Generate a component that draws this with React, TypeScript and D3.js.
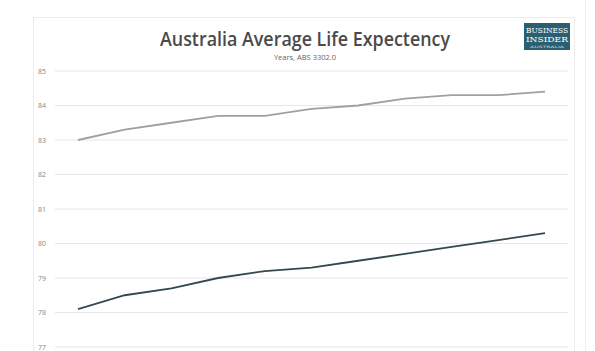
import React from "react";
import * as d3 from "d3";

const years = ["1", "2", "3", "4", "5", "6", "7", "8", "9", "10", "11"];
const female = [83.0, 83.3, 83.5, 83.7, 83.7, 83.9, 84.0, 84.2, 84.3, 84.3, 84.4];
const male = [78.1, 78.5, 78.7, 79.0, 79.2, 79.3, 79.5, 79.7, 79.9, 80.1, 80.3];
const yTicks = [77, 78, 79, 80, 81, 82, 83, 84, 85];

const W = 595;
const H = 351;

export default function App() {
  const x = d3.scalePoint<string>().domain(years).range([78, 545]);
  const y = d3.scaleLinear().domain([77, 85]).range([347, 71]);
  const line = d3
    .line<number>()
    .x((_, i) => x(years[i]) as number)
    .y((d) => y(d));

  return (
    <svg
      width={W}
      height={H}
      style={{ position: "absolute", left: 0, top: 0, background: "#fff" }}
    >
      <rect x={0} y={0} width={W} height={H} fill="#fff" />
      {/* card */}
      <rect x={33.5} y={17.5} width={541} height={340} fill="#fff" stroke="#ececec" />
      {/* right side panel edge */}
      <line x1={585.5} x2={585.5} y1={0} y2={H} stroke="#f0f0f0" />
      {/* gridlines */}
      {yTicks.map((t) => (
        <g key={t}>
          <line x1={55} x2={568} y1={y(t)} y2={y(t)} stroke="#e6e6e6" strokeWidth={1} />
          <text
            x={46}
            y={y(t) + 2.5}
            textAnchor="end"
            fontFamily="'Open Sans', sans-serif"
            fontSize={7}
            fill="#888888"
          >
            {t}
          </text>
        </g>
      ))}
      <path d={line(female) || ""} fill="none" stroke="#a0a0a0" strokeWidth={1.8} />
      <path d={line(male) || ""} fill="none" stroke="#33494f" strokeWidth={1.8} />
      {/* title */}
      <text
        x={305}
        y={46}
        textAnchor="middle"
        fontFamily="'Open Sans', sans-serif"
        fontWeight={600}
        fontSize={19}
        fill="#4a4a4a"
        textLength={290}
        lengthAdjust="spacingAndGlyphs"
      >
        Australia Average Life Expectency
      </text>
      <text
        x={305}
        y={60}
        textAnchor="middle"
        fontFamily="'Open Sans', sans-serif"
        fontSize={7.5}
        fill="#666"
      >
        Years, ABS 3302.0
      </text>
      {/* logo */}
      <rect x={524} y={23} width={46} height={27} fill="#2b5f70" />
      <text
        x={547}
        y={32.5}
        textAnchor="middle"
        fontFamily="'DejaVu Serif', serif"
        fontSize={8}
        fill="#fff"
        textLength={42}
        lengthAdjust="spacingAndGlyphs"
      >
        BUSINESS
      </text>
      <text
        x={547}
        y={42}
        textAnchor="middle"
        fontFamily="'DejaVu Serif', serif"
        fontSize={8}
        fill="#fff"
        textLength={42}
        lengthAdjust="spacingAndGlyphs"
      >
        INSIDER
      </text>
      <text
        x={547}
        y={47.5}
        textAnchor="middle"
        fontFamily="'DejaVu Sans', sans-serif"
        fontSize={3}
        fill="#cfdde2"
        textLength={34}
        lengthAdjust="spacingAndGlyphs"
      >
        AUSTRALIA
      </text>
    </svg>
  );
}
